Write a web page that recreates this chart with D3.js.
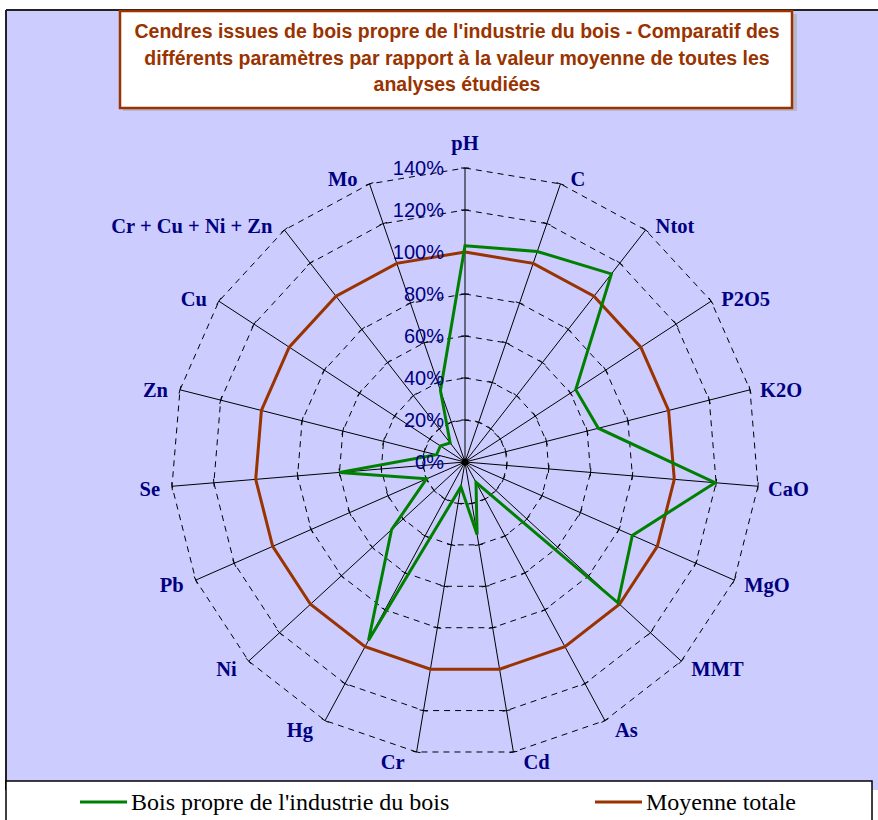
<!DOCTYPE html>
<html><head><meta charset="utf-8">
<script src="https://cdn.jsdelivr.net/npm/d3@7"></script>
<style>html,body{margin:0;padding:0;background:#fff;}svg{display:block;}</style>
</head><body>
<svg id="c" width="878" height="820"></svg>
<script>
const categories = ["pH","C","Ntot","P2O5","K2O","CaO","MgO","MMT","As","Cd","Cr","Hg","Ni","Pb","Se","Zn","Cu","Cr + Cu + Ni + Zn","Mo"];
const boisPropre = [103,106,113.5,63,65.5,119.5,87,99,11,35,12,96.5,47.5,20,60,14,14,11.5,36];
const moyenneTotale = [100,100,100,100,100,100,100,100,100,100,100,100,100,100,100,100,100,100,100];
const tickValues = [0,20,40,60,80,100,120,140];
const seriesNames = ["Bois propre de l'industrie du bois","Moyenne totale"];
const titleLines = ["Cendres issues de bois propre de l'industrie du bois - Comparatif des","différents paramètres par rapport à la valeur moyenne de toutes les","analyses étudiées"];

const svg = d3.select("#c");
const cx = 465, cy = 462;
const r = d3.scaleLinear().domain([0,140]).range([0,294]);
const n = categories.length;
const ang = d3.scaleLinear().domain([0,n]).range([0,2*Math.PI]);
const pt = (i,v) => [cx + r(v)*Math.sin(ang(i)), cy - r(v)*Math.cos(ang(i))];

// plot area
svg.append("rect").attr("x",6).attr("y",10).attr("width",880).attr("height",780).attr("fill","#CCCCFF");
svg.append("line").attr("x1",6).attr("x2",878).attr("y1",10).attr("y2",10).attr("stroke","#222").attr("stroke-width",2);
svg.append("line").attr("x1",6).attr("x2",6).attr("y1",10).attr("y2",790).attr("stroke","#222").attr("stroke-width",2);

// title box
svg.append("rect").attr("x",123).attr("y",14).attr("width",674).attr("height",97).attr("fill","#b8b8c8");
svg.append("rect").attr("x",120).attr("y",11).attr("width",672).attr("height",97).attr("fill","#fff").attr("stroke","#993300").attr("stroke-width",2.5);
svg.append("g").selectAll("text").data(titleLines).join("text")
  .attr("x",457).attr("y",(d,i)=>38+i*26.5).attr("text-anchor","middle")
  .attr("font-family","Liberation Sans, Arial, sans-serif").attr("font-weight","bold").attr("font-size",19.5)
  .attr("fill","#993300").text(d=>d);

// grid rings
const line = d3.line();
const g = svg.append("g");
tickValues.filter(v=>v>0).forEach(v=>{
  const pts = d3.range(n).map(i=>pt(i,v));
  g.append("path").attr("d", line(pts)+"Z").attr("fill","none").attr("stroke","#000").attr("stroke-width",1).attr("stroke-dasharray","6,5");
});
// axes
categories.forEach((c,i)=>{
  const [x,y] = pt(i,140);
  g.append("line").attr("x1",cx).attr("y1",cy).attr("x2",x).attr("y2",y).attr("stroke","#000").attr("stroke-width",1);
  tickValues.filter(v=>v>0).forEach(v=>{
    const [px,py] = pt(i,v);
    const a = ang(i);
    const dx = Math.cos(a)*4, dy = Math.sin(a)*4;
    g.append("line").attr("x1",px-dx).attr("y1",py-dy).attr("x2",px+dx).attr("y2",py+dy).attr("stroke","#000").attr("stroke-width",1);
  });
});
svg.append("circle").attr("cx",cx).attr("cy",cy).attr("r",3.5).attr("fill","#000");

// series
const series = [{vals:moyenneTotale,color:"#993300"},{vals:boisPropre,color:"#008000"}];
series.forEach(s=>{
  const pts = s.vals.map((v,i)=>pt(i,v));
  svg.append("path").attr("d",line(pts)+"Z").attr("fill","none").attr("stroke",s.color).attr("stroke-width",3).attr("stroke-linejoin","miter");
});

// percentage labels
svg.append("g").selectAll("text").data(tickValues).join("text")
  .attr("x",444).attr("y",d=>cy - r(d)).attr("dy","0.36em").attr("text-anchor","end")
  .attr("font-family","Liberation Sans, Arial, sans-serif").attr("font-size",20).attr("fill","#000080")
  .text(d=>d+"%");

// category labels
svg.append("g").selectAll("text").data(categories).join("text")
  .each(function(d,i){
    const a = ang(i), s = Math.sin(a), c = Math.cos(a);
    const [x,y] = pt(i,140);
    const t = d3.select(this);
    if (Math.abs(s) < 0.05) {
      t.attr("x",x).attr("y", c>0 ? y-25 : y+25).attr("text-anchor","middle");
    } else {
      t.attr("x", x + (s>0?10:-12)).attr("y", y - 8*c + 2).attr("text-anchor", s>0?"start":"end");
    }
  })
  .attr("dy","0.35em")
  .attr("font-family","Liberation Serif, Times New Roman, serif").attr("font-weight","bold").attr("font-size",20.5)
  .attr("fill","#000080").text(d=>d);

// legend
svg.append("rect").attr("x",6).attr("y",781).attr("width",866).attr("height",60).attr("fill","#fff").attr("stroke","#000").attr("stroke-width",1.5);
const leg = [{x:80,color:"#008000",name:seriesNames[0]},{x:595,color:"#993300",name:seriesNames[1]}];
leg.forEach(l=>{
  svg.append("line").attr("x1",l.x).attr("x2",l.x+47).attr("y1",802).attr("y2",802).attr("stroke",l.color).attr("stroke-width",3);
  svg.append("text").attr("x",l.x+51).attr("y",810).attr("font-family","Liberation Serif, Times New Roman, serif")
    .attr("font-size",24).attr("fill","#000").text(l.name);
});
</script>
</body></html>
